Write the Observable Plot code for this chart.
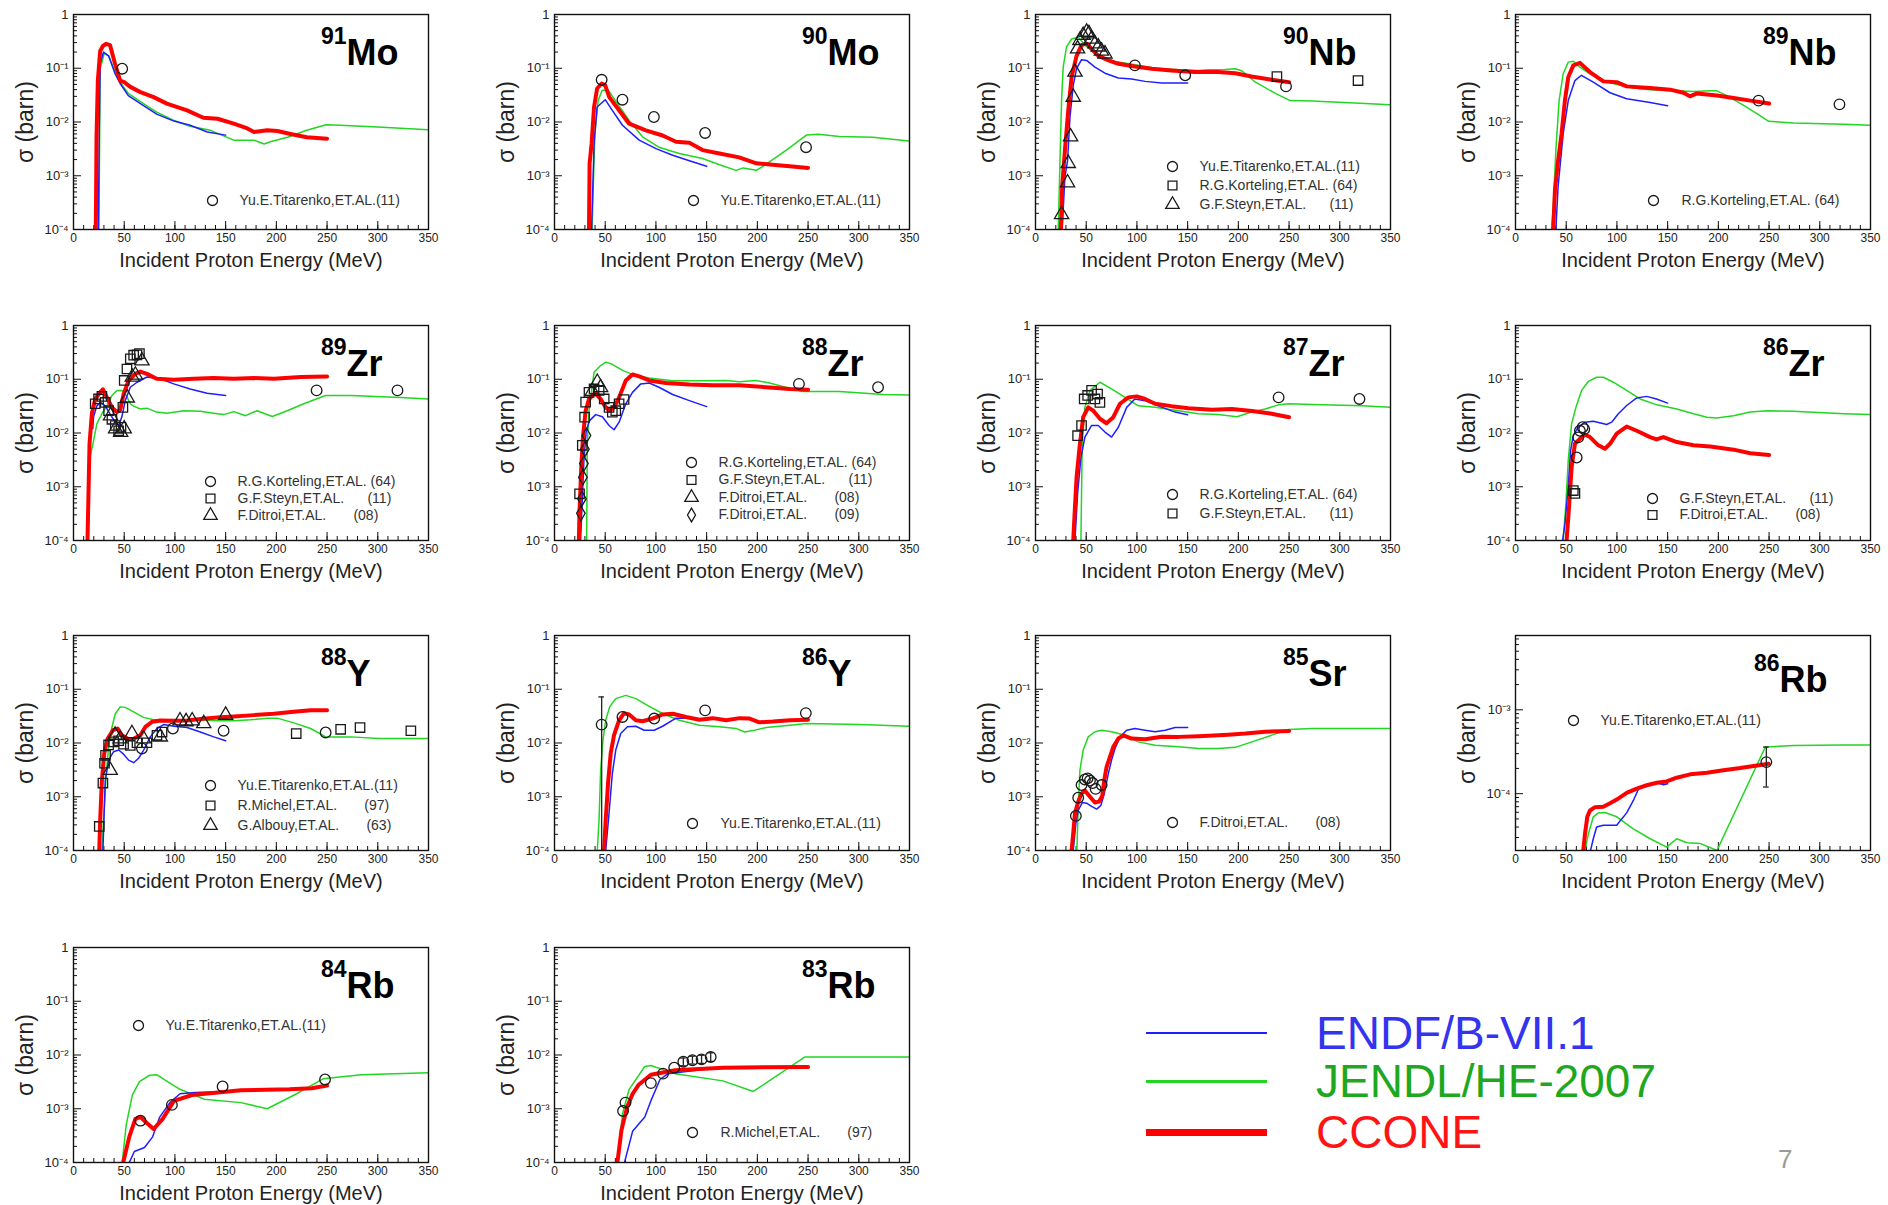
<!DOCTYPE html>
<html><head><meta charset="utf-8">
<script src="https://cdn.jsdelivr.net/npm/d3@7"></script>
<script src="https://cdn.jsdelivr.net/npm/@observablehq/plot@0.6"></script>
<style>
html,body{margin:0;padding:0;background:#fff;}
#page{position:relative;width:1888px;height:1205px;overflow:hidden;background:#fff;font-family:"Liberation Sans",Arial,Helvetica,sans-serif;}
.panel{position:absolute;}
.panel svg text{white-space:pre;}
.title{position:absolute;display:flex;align-items:flex-start;line-height:1;font-weight:bold;color:#000;white-space:nowrap;}
.title .m{font-size:23px;}
.title .e{font-size:36px;margin-top:9.5px;}
.lg-line{position:absolute;left:1146px;width:121px;}
.lg-text{position:absolute;left:1316px;font-size:46px;line-height:1;transform:translateY(-50%);white-space:nowrap;}
#pageno{position:absolute;left:1778px;top:1146px;font-size:26px;color:#9a9a9a;line-height:1;}
</style></head><body><div id="page"></div><script>
// ---------- tick values & labels ----------
const xMajor = [0, 50, 100, 150, 200, 250, 300, 350];
const xMinor = d3.range(0, 351, 10);
const X_LABEL = "Incident Proton Energy (MeV)";
const Y_LABEL = "σ (barn)";
const SYMS = ["circle", "square", "triangle", "diamond"];
const LIB_NAMES = ["ENDF/B-VII.1", "JENDL/HE-2007", "CCONE"];
const LIB_COLORS = ["#1e1eff", "#22d622", "#ff0000"];
const LIB_TEXT_COLORS = ["#3434ef", "#1fa81f", "#ff1414"];

// ---------- reference labels ----------
const REF_T = "Yu.E.Titarenko,ET.AL.(11)";
const REF_K = "R.G.Korteling,ET.AL. (64)";
const REF_S = "G.F.Steyn,ET.AL.      (11)";
const REF_D08 = "F.Ditroi,ET.AL.       (08)";
const REF_D09 = "F.Ditroi,ET.AL.       (09)";
const REF_M = "R.Michel,ET.AL.       (97)";
const REF_A = "G.Albouy,ET.AL.       (63)";

// ---------- data: [E (MeV), sigma (barn)] ; exp: [E, sigma, set] ----------
const Mo91_CCONE = [[22,1e-4],[22.7,0.0052],[24,0.059],[26.3,0.21],[29,0.26],[32.3,0.285],[36,0.27],[41,0.12],[46,0.059],[50,0.055],[56,0.045],[66,0.036],[79,0.029],[92,0.022],[112,0.0165],[128,0.012],[142,0.0115],[158,0.0093],[170,0.0078],[178,0.0065],[191,0.007],[201,0.0068],[214,0.006],[230,0.0052],[250,0.0049]];
const Mo91_ENDF = [[24.5,1e-4],[25.5,0.01],[26.3,0.12],[29.6,0.2],[34.6,0.17],[41,0.079],[46,0.052],[54,0.031],[66,0.022],[82,0.014],[99,0.0104],[115,0.0087],[132,0.0065],[150,0.0057]];
const Mo91_JENDL = [[25,1e-4],[25.6,0.002],[26.3,0.1],[27,0.11],[30.3,0.19],[34.6,0.17],[41,0.085],[46,0.055],[54,0.034],[66,0.024],[82,0.0153],[99,0.0107],[115,0.0083],[135,0.007],[158,0.0046],[178,0.0046],[188,0.0039],[194,0.0043],[211,0.0052],[230,0.007],[249,0.0089],[263,0.0087],[300,0.0081],[350,0.0072]];
const Mo91_exp = [[48,0.098,0]];

const Mo90_CCONE = [[34,1e-4],[34.6,0.0017],[36.6,0.004],[39,0.019],[42,0.042],[46.5,0.052],[50,0.048],[54,0.029],[63.7,0.0165],[73.6,0.0093],[90,0.007],[106.6,0.0056],[119.8,0.0043],[133,0.0041],[146,0.003],[162.7,0.0026],[182,0.0022],[199,0.0017],[215,0.0016],[232,0.0015],[250,0.0014]];
const Mo90_ENDF = [[36.6,1e-4],[39,0.004],[42,0.019],[50,0.026],[57,0.0165],[67,0.0087],[83.5,0.0046],[100,0.0032],[116.5,0.0024],[133,0.0019],[150,0.0015]];
const Mo90_JENDL = [[37,1e-4],[37.8,3.5e-4],[39.8,0.006],[43,0.025],[47,0.039],[53,0.039],[60,0.025],[73.6,0.0107],[86.8,0.0053],[103,0.0034],[123,0.0026],[146,0.0021],[162.7,0.0016],[179,0.00126],[186,0.0014],[199,0.00126],[205.5,0.0015],[228.6,0.003],[248.4,0.0057],[260,0.0059],[281,0.0054],[314,0.0052],[350,0.0044]];
const Mo90_exp = [[46.5,0.061,0],[67,0.026,0],[98,0.0124,0],[148.5,0.00625,0],[248,0.0034,0]];

const Nb90_CCONE = [[25,1e-4],[26.3,6.3e-4],[29,0.003],[32.3,0.0165],[35.6,0.069],[40.5,0.17],[45.4,0.27],[50.4,0.29],[55.3,0.23],[62,0.17],[72,0.14],[81.7,0.121],[98,0.108],[114.6,0.098],[134,0.091],[157,0.085],[180,0.085],[197,0.081],[213,0.07],[233,0.061],[250,0.055]];
const Nb90_ENDF = [[26.3,1e-4],[29,9.5e-4],[31.6,0.0019],[34,0.0124],[37.2,0.048],[40.5,0.098],[45.4,0.144],[50.4,0.14],[58.6,0.105],[68.5,0.081],[81.7,0.066],[94.8,0.063],[108,0.057],[124.5,0.053],[150,0.053]];
const Nb90_JENDL = [[22.4,1e-4],[24,0.00145],[25.7,0.025],[27.3,0.105],[30.6,0.25],[35.6,0.35],[42,0.38],[48.8,0.27],[55.3,0.215],[65.2,0.16],[78.4,0.134],[98,0.116],[118,0.1],[141,0.094],[160.7,0.091],[170.6,0.094],[187,0.095],[197,0.098],[203.7,0.089],[216.8,0.055],[236.6,0.034],[251,0.025],[272.6,0.0245],[325,0.022],[350,0.021]];
const Nb90_exp = [[98,0.113,0],[147.6,0.074,0],[247,0.046,0],[238,0.07,1],[318,0.059,1],[25.7,1.9e-4,2],[31.6,7.4e-4,2],[32.3,0.0017,2],[34.6,0.0053,2],[37.2,0.029,2],[38.9,0.085,2],[41.5,0.23,2],[43.8,0.33,2],[47,0.41,2],[50.4,0.47,2],[52.7,0.44,2],[55.3,0.35,2],[58.6,0.285,2],[61.9,0.25,2],[65,0.21,2],[68.5,0.185,2]];

const Nb89_CCONE = [[37.2,1e-4],[38.9,5.4e-4],[42,0.0019],[45.4,0.006],[48.7,0.025],[52,0.068],[57,0.113],[63.5,0.126],[73.4,0.085],[86.6,0.057],[99.8,0.055],[109.6,0.046],[132.7,0.043],[152.5,0.04],[165.6,0.035],[172,0.03],[179,0.034],[198.6,0.031],[215,0.028],[231.5,0.025],[250,0.022]];
const Nb89_ENDF = [[39.8,1e-4],[42,6.3e-4],[47,0.006],[52,0.025],[58.6,0.059],[65,0.074],[76.7,0.055],[93.2,0.035],[109.6,0.027],[132.7,0.023],[150,0.02]];
const Nb89_JENDL = [[35.5,1e-4],[37.2,2.6e-4],[39.8,0.003],[43,0.025],[47,0.079],[52,0.13],[57,0.135],[63.5,0.105],[73.4,0.079],[86.6,0.06],[99.8,0.05],[116,0.043],[132.7,0.04],[159,0.038],[175.6,0.037],[192,0.038],[198.5,0.038],[208.4,0.031],[225,0.0204],[238,0.0143],[249.6,0.0103],[274,0.0096],[323.7,0.0091],[350,0.0087]];
const Nb89_exp = [[239.7,0.025,0],[319.4,0.0213,0]];

const Zr89_CCONE = [[13.8,1e-4],[14.8,7.9e-4],[15.8,0.0063],[18.1,0.0228],[21.4,0.043],[26.3,0.057],[29,0.065],[32.9,0.046],[37.9,0.03],[42.8,0.0245],[46,0.027],[49.4,0.053],[54.3,0.095],[61,0.126],[65.9,0.139],[72.4,0.126],[82,0.102],[98.8,0.098],[118.5,0.102],[138,0.106],[158,0.102],[178,0.105],[197.6,0.102],[224,0.11],[250,0.113]];
const Zr89_ENDF = [[19,0.012],[19.8,0.02],[23,0.032],[26.3,0.037],[31.3,0.032],[36,0.0227],[41,0.016],[44.5,0.0138],[47.7,0.02],[51,0.04],[56,0.071],[62.6,0.088],[72.4,0.11],[85.6,0.102],[98.8,0.082],[115,0.066],[131.7,0.055],[150,0.05]];
const Zr89_JENDL = [[17,0.0041],[19.8,0.0072],[23,0.0148],[28,0.0228],[32.9,0.032],[37.9,0.05],[42.8,0.062],[47.7,0.062],[52,0.05],[56,0.035],[59.3,0.0317],[65.9,0.028],[72.4,0.029],[82,0.0245],[92,0.0234],[108.7,0.026],[125,0.0255],[138,0.0234],[148,0.022],[158,0.025],[169.6,0.021],[181,0.026],[196,0.0203],[210.7,0.026],[227,0.035],[248.6,0.05],[273,0.05],[322.7,0.046],[350,0.043]];
const Zr89_exp = [[239.7,0.062,0],[319.4,0.062,0],[21.4,0.035,1],[24.7,0.043,1],[28,0.048,1],[31.3,0.037,1],[34.6,0.026,1],[37.9,0.018,1],[41.2,0.0138,1],[44.5,0.011,1],[46.8,0.0128,1],[48.7,0.03,1],[50,0.095,1],[52.7,0.155,1],[56,0.24,1],[59.3,0.28,1],[62.6,0.285,1],[65,0.3,1],[36.5,0.021,2],[41.5,0.012,2],[46.5,0.0103,2],[50,0.012,2],[53,0.045,2],[58,0.11,2],[61,0.12,2],[67.5,0.22,2]];

const Zr88_CCONE = [[24,1e-4],[24.7,3.6e-4],[26.4,0.0023],[28,0.0083],[30.7,0.026],[34,0.043],[39.9,0.055],[45.5,0.043],[50.5,0.03],[54.4,0.026],[58.7,0.03],[63.7,0.046],[70.3,0.095],[76.9,0.123],[83.5,0.113],[93.4,0.095],[109.9,0.085],[133,0.08],[156,0.077],[182.4,0.077],[208.8,0.071],[232,0.066],[250,0.064]];
const Zr88_ENDF = [[25.7,1e-4],[29,0.0031],[31.3,0.011],[34.6,0.017],[40.6,0.022],[47.2,0.02],[53.8,0.0138],[58.7,0.0115],[63.7,0.0159],[70.3,0.035],[76.9,0.057],[85,0.082],[93.4,0.085],[103,0.071],[116.5,0.052],[133,0.04],[150,0.031]];
const Zr88_JENDL = [[31.7,1e-4],[32.3,0.006],[34,0.026],[39,0.135],[45.5,0.18],[50.5,0.208],[57,0.19],[67,0.146],[80,0.117],[93.4,0.105],[116.5,0.094],[143,0.094],[169,0.095],[182,0.09],[199,0.095],[212,0.085],[225,0.073],[245,0.059],[281,0.059],[324,0.052],[350,0.051]];
const Zr88_exp = [[241,0.082,0],[319,0.071,0],[24.7,7.4e-4,1],[27.4,0.0059,1],[29.7,0.0197,1],[30.7,0.0375,1],[34,0.057,1],[39,0.066,1],[44,0.062,1],[49,0.043,1],[53.8,0.03,1],[57,0.0245,1],[60.4,0.026,1],[63.7,0.035,1],[68.6,0.042,1],[42.2,0.088,2],[45.5,0.07,2],[37.3,0.06,2],[26,3.2e-4,3],[27,6e-4,3],[28,0.0015,3],[29,0.0027,3],[30,0.005,3],[31.5,0.009,3]];

const Zr87_CCONE = [[37.2,1e-4],[38.9,4.2e-4],[40.5,0.0015],[43.8,0.0063],[47,0.0197],[52,0.03],[57,0.026],[63.5,0.0184],[70,0.0152],[76.7,0.0197],[83.3,0.035],[91.5,0.046],[99.8,0.048],[108,0.043],[117.9,0.035],[134,0.0316],[150.8,0.029],[173.9,0.027],[193.6,0.028],[213.4,0.0256],[231.5,0.023],[250,0.0197]];
const Zr87_ENDF = [[38.9,1e-4],[41.5,7.4e-4],[44.8,0.0035],[48.7,0.0084],[55.3,0.0138],[61.9,0.0138],[68.5,0.0104],[75,0.0084],[81.7,0.0128],[89.9,0.03],[98,0.043],[108,0.04],[121,0.032],[137.6,0.0245],[150,0.0218]];
const Zr87_JENDL = [[44.8,1e-4],[46,0.006],[48.7,0.03],[53.7,0.062],[63.5,0.088],[75,0.066],[88.2,0.046],[101.4,0.032],[118,0.03],[141,0.026],[160.7,0.0228],[180,0.022],[198.6,0.02],[213,0.0245],[226.5,0.028],[239.7,0.0334],[249.6,0.035],[272.6,0.034],[322,0.032],[350,0.03]];
const Zr87_exp = [[239.7,0.046,0],[319.4,0.043,0],[41.5,0.0089,1],[45.4,0.0138,1],[48,0.043,1],[51.4,0.05,1],[55.3,0.062,1],[58.6,0.043,1],[61.2,0.053,1],[63.5,0.037,1]];

const Zr86_CCONE = [[50.4,1e-4],[53,4.8e-4],[55.3,0.0023],[58.6,0.0063],[63.5,0.0078],[68.5,0.0094],[73.4,0.0084],[81.7,0.0059],[88.2,0.0051],[93.2,0.0063],[99.8,0.0097],[109.6,0.0132],[119.5,0.011],[132.7,0.0084],[139,0.0076],[145.9,0.0084],[159,0.0068],[175.5,0.0059],[192,0.0056],[215,0.0049],[231.5,0.0042],[250,0.0039]];
const Zr86_ENDF = [[46.4,1e-4],[48.7,2e-4],[52,0.001],[54.3,0.0047],[57,0.009],[61.9,0.0128],[68.5,0.0159],[76.7,0.0166],[85,0.0152],[89.9,0.0144],[94.8,0.0159],[101.4,0.0228],[109.6,0.0325],[119.5,0.045],[129.4,0.048],[139,0.043],[150,0.036]];
const Zr86_JENDL = [[47,1e-4],[49.7,4.8e-4],[52,0.0031],[55.3,0.0148],[59.6,0.03],[65.2,0.062],[71.8,0.091],[80,0.109],[86.6,0.109],[96.5,0.088],[109.6,0.062],[122.8,0.043],[139.3,0.0334],[159,0.028],[175.5,0.0228],[188.7,0.0197],[198.5,0.019],[215,0.021],[231.5,0.0245],[248,0.026],[274,0.0255],[323.7,0.0228],[350,0.022]];
const Zr86_exp = [[60.3,0.0035,0],[61.9,0.0083,0],[63.5,0.011,0],[66.2,0.0128,0],[67.8,0.0118,0],[57,8.5e-4,1],[58.6,7.5e-4,1]];

const Y88_CCONE = [[25.4,1e-4],[26.3,3.7e-4],[28,0.002],[30.3,0.0064],[33.6,0.012],[38.9,0.0173],[43.5,0.0186],[47.7,0.0139],[54.3,0.0118],[59.3,0.012],[65.9,0.0139],[70.8,0.0199],[77.4,0.0248],[85.6,0.0263],[98.8,0.026],[112,0.0263],[125,0.028],[141.6,0.0297],[158,0.031],[177.8,0.033],[197.6,0.035],[217,0.038],[233.8,0.0405],[250,0.0405]];
const Y88_ENDF = [[29,1e-4],[31.3,0.002],[34.6,0.0048],[39.5,0.0069],[44.5,0.0074],[49.4,0.0062],[54.3,0.0048],[59.3,0.0043],[64.2,0.0052],[69.2,0.0074],[75.7,0.013],[82.3,0.0186],[88.9,0.022],[98.8,0.0205],[112,0.0194],[125,0.016],[138.3,0.013],[150,0.011]];
const Y88_JENDL = [[28,1e-4],[29.6,3.7e-4],[32.3,0.0027],[34.6,0.0085],[37.2,0.0173],[41.2,0.035],[46,0.047],[51,0.046],[59.3,0.038],[69,0.03],[79,0.027],[92,0.025],[108.7,0.026],[125,0.027],[141.6,0.026],[158,0.026],[174.5,0.027],[191,0.029],[200.8,0.029],[217.3,0.0237],[233.8,0.0186],[248.6,0.013],[273.3,0.013],[301.3,0.0121],[350,0.0121]];
const Y88_exp = [[98,0.0186,0],[148,0.0169,0],[248.6,0.0157,0],[67.5,0.0079,0],[25.4,2.8e-4,1],[29,0.0018,1],[30.6,0.0042,1],[31.6,0.0059,1],[34.6,0.0092,1],[39.5,0.0105,1],[44.5,0.011,1],[49.4,0.0095,1],[56,0.009,1],[62.6,0.0101,1],[72.4,0.0101,1],[82.3,0.0139,1],[87.3,0.016,1],[219.6,0.015,1],[263.4,0.018,1],[282.5,0.0194,1],[332.6,0.0169,1],[36.2,0.0031,2],[41,0.014,2],[46,0.012,2],[57.6,0.015,2],[69,0.012,2],[85.6,0.013,2],[105,0.026,2],[111,0.025,2],[117,0.026,2],[128.4,0.023,2],[150,0.033,2]];

const Y86_CCONE = [[48.8,1e-4],[50.5,3.7e-4],[52.8,0.0018],[55.4,0.0064],[58.7,0.014],[63.7,0.0265],[68.6,0.036],[73.6,0.034],[80.2,0.0265],[86.8,0.0254],[96.7,0.0285],[106.6,0.034],[116.5,0.035],[129.7,0.0305],[142.9,0.027],[156,0.029],[169.3,0.0265],[182.4,0.029],[192.3,0.0285],[202,0.0243],[215.4,0.025],[232,0.0265],[250,0.027]];
const Y86_ENDF = [[50.5,1e-4],[53.8,5e-4],[57,0.0027],[60.4,0.0074],[65.3,0.015],[71.9,0.02],[80.2,0.0205],[88.4,0.0173],[98.3,0.0173],[106.6,0.0205],[119.8,0.029],[129.7,0.029],[143,0.028],[150,0.0265]];
const Y86_JENDL = [[42.2,1e-4],[43.9,3.7e-4],[45.5,0.0031],[47.8,0.0113],[50.5,0.0265],[54.4,0.047],[60.4,0.067],[70.3,0.077],[80.2,0.067],[93.4,0.048],[106.6,0.0354],[123,0.0265],[143,0.0214],[162.7,0.02],[179,0.0187],[187.4,0.016],[195.6,0.017],[208.8,0.0194],[232,0.0214],[248.4,0.023],[301,0.0222],[350,0.0205]];
const Y86_exp = [[46.5,0.022,0],[67,0.0305,0],[98.3,0.0285,0],[148.5,0.0405,0],[247.8,0.036,0]];
const Y86_err = [[46.5,1e-4,0.072]];

const Sr85_CCONE = [[35.6,1e-4],[37.2,2.1e-4],[38.9,4.9e-4],[42.1,8.1e-4],[45.4,0.00115],[48.7,0.0013],[53.7,0.001],[58.6,7.8e-4],[62.6,8.1e-4],[65.9,0.00105],[67.8,0.00205],[70.1,0.0036],[73.4,0.0055],[76.7,0.0085],[81.7,0.0121],[86.6,0.0139],[94.8,0.0121],[108,0.0117],[124.5,0.0131],[141,0.013],[160.7,0.0134],[190,0.0143],[206.8,0.015],[226.5,0.0162],[250,0.0168]];
const Sr85_ENDF = [[37.2,1e-4],[39.8,3.2e-4],[42.1,5.6e-4],[46.1,7.8e-4],[50.4,7.6e-4],[55.3,6.6e-4],[60.3,5.9e-4],[64.5,6.9e-4],[67.8,0.00115],[71.8,0.0027],[75,0.0048],[78.4,0.0079],[83.3,0.013],[89.9,0.0173],[98,0.0186],[108,0.0173],[117.9,0.0162],[127.8,0.0173],[137.6,0.0194],[150,0.0194]];
const Sr85_JENDL = [[40.8,1e-4],[42.1,6.6e-4],[43.8,0.0031],[47,0.0074],[52,0.013],[58.6,0.0162],[65.2,0.0173],[75,0.0162],[88.2,0.0139],[101.4,0.0105],[117.9,0.0091],[141,0.0085],[160.7,0.0079],[180,0.0079],[197,0.0083],[213.4,0.0105],[233,0.014],[249.6,0.0178],[272.6,0.0186],[350,0.0186]];
const Sr85_exp = [[39.8,4.4e-4,0],[42.1,9.6e-4,0],[45.4,0.00165,0],[48.7,0.0021,0],[51.4,0.0022,0],[53.7,0.002,0],[56.3,0.0018,0],[59.3,0.0014,0],[65.2,0.00165,0]];

const Rb86_CCONE = [[66.8,2.1e-5],[68.5,3.3e-5],[70.8,5.3e-5],[73.4,6.3e-5],[78.4,6.9e-5],[86.6,7e-5],[93.2,7.7e-5],[99.8,8.5e-5],[109.6,1.02e-4],[119.5,1.15e-4],[129.4,1.26e-4],[139.3,1.35e-4],[149,1.4e-4],[158.9,1.55e-4],[172.2,1.7e-4],[188.7,1.78e-4],[205,1.9e-4],[221.6,2.02e-4],[234.8,2.14e-4],[249.6,2.27e-4]];
const Rb86_ENDF = [[74,2.1e-5],[76.7,2.9e-5],[80,4e-5],[86.6,4.2e-5],[99.8,4.2e-5],[104.7,5e-5],[109.6,5.9e-5],[116.2,8.3e-5],[122.2,1.2e-4],[129.4,1.28e-4],[139.3,1.35e-4],[145.9,1.28e-4],[150,1.31e-4]];
const Rb86_JENDL = [[68.5,2.1e-5],[71.8,3.3e-5],[76.7,5.3e-5],[81.7,5.9e-5],[88.2,5.95e-5],[99.8,5.3e-5],[116.2,3.8e-5],[132.7,2.9e-5],[149.1,2.3e-5],[159,2.9e-5],[169,2.6e-5],[182,2.55e-5],[198.6,2.1e-5],[246.3,3.6e-4],[274.3,3.75e-4],[323.7,3.8e-4],[350,3.8e-4]];
const Rb86_exp = [[247.3,2.38e-4,0]];
const Rb86_err = [[247.3,1.2e-4,3.6e-4]];

const Rb84_CCONE = [[49,1e-4],[55,3e-4],[61,6.5e-4],[66,7e-4],[72,5.5e-4],[79,4.2e-4],[88,6.5e-4],[99,1.4e-3],[117,1.8e-3],[165,2.2e-3],[213,2.3e-3],[235,2.4e-3],[250,2.7e-3]];
const Rb84_ENDF = [[55,1e-4],[60,1.6e-4],[70,1.9e-4],[78,3e-4],[85,7e-4],[95,1.3e-3],[105,1.9e-3],[120,2e-3],[150,2.1e-3]];
const Rb84_JENDL = [[48,1e-4],[52,5e-4],[58,1.8e-3],[65,3.2e-3],[75,4.2e-3],[82,4.3e-3],[95,3e-3],[105,2.3e-3],[129,1.5e-3],[165,1.3e-3],[191,1e-3],[220,1.9e-3],[246,3.6e-3],[284,4.3e-3],[350,4.7e-3]];
const Rb84_exp = [[66,6e-4,0],[97,1.18e-3,0],[147,2.6e-3,0],[248,3.5e-3,0]];

const Rb83_CCONE = [[62,1e-4],[66,4e-4],[71.5,1.05e-3],[77,1.9e-3],[83,2.8e-3],[95,4.3e-3],[119,5.2e-3],[166,5.8e-3],[250,6e-3]];
const Rb83_ENDF = [[69,1e-4],[77,3.8e-4],[89,7e-4],[95,1.4e-3],[104,3.5e-3],[112,4.5e-3],[150,5.5e-3]];
const Rb83_JENDL = [[62,1e-4],[67,8e-4],[73.6,2.3e-3],[89,6.1e-3],[95,6.4e-3],[119,4.5e-3],[166,3.3e-3],[196,2.1e-3],[247,9.2e-3],[350,9.2e-3]];
const Rb83_exp = [[67.6,9.1e-4,0],[70,1.3e-3,0],[95,3e-3,0],[107,4.5e-3,0],[118,5.8e-3,0],[127,7.5e-3,0],[136,8e-3,0],[145,8.3e-3,0],[154,9.2e-3,0]];
const Rb83_err = [[127,6.3e-3,8.8e-3],[136,6.8e-3,9.5e-3],[145,7e-3,9.9e-3],[154,7.6e-3,1.1e-2]];

// ---------- layout ----------
const colX = [73, 554, 1035, 1515];
const rowY = [14, 325, 635, 947];
const FW = 355, FH = 215;
const ML = 70, MR = 8, MT = 8, MB = 44;

const panels = [
  {mass:"91", el:"Mo", c:0, r:0, ccone:Mo91_CCONE, endf:Mo91_ENDF, jendl:Mo91_JENDL, exp:Mo91_exp, refs:[REF_T], leg:{dx:139, tx:166, dy:186, gap:18}},
  {mass:"90", el:"Mo", c:1, r:0, ccone:Mo90_CCONE, endf:Mo90_ENDF, jendl:Mo90_JENDL, exp:Mo90_exp, refs:[REF_T], leg:{dx:139, tx:166, dy:186, gap:18}},
  {mass:"90", el:"Nb", c:2, r:0, ccone:Nb90_CCONE, endf:Nb90_ENDF, jendl:Nb90_JENDL, exp:Nb90_exp, refs:[REF_T, REF_K, REF_S], leg:{dx:137, tx:164, dy:152, gap:19}},
  {mass:"89", el:"Nb", c:3, r:0, ccone:Nb89_CCONE, endf:Nb89_ENDF, jendl:Nb89_JENDL, exp:Nb89_exp, refs:[REF_K], leg:{dx:138, tx:166, dy:186, gap:18}},
  {mass:"89", el:"Zr", c:0, r:1, ccone:Zr89_CCONE, endf:Zr89_ENDF, jendl:Zr89_JENDL, exp:Zr89_exp, refs:[REF_K, REF_S, REF_D08], leg:{dx:137, tx:164, dy:156, gap:17}},
  {mass:"88", el:"Zr", c:1, r:1, ccone:Zr88_CCONE, endf:Zr88_ENDF, jendl:Zr88_JENDL, exp:Zr88_exp, refs:[REF_K, REF_S, REF_D08, REF_D09], leg:{dx:137, tx:164, dy:137, gap:17.5}},
  {mass:"87", el:"Zr", c:2, r:1, ccone:Zr87_CCONE, endf:Zr87_ENDF, jendl:Zr87_JENDL, exp:Zr87_exp, refs:[REF_K, REF_S], leg:{dx:137, tx:164, dy:169, gap:19}},
  {mass:"86", el:"Zr", c:3, r:1, ccone:Zr86_CCONE, endf:Zr86_ENDF, jendl:Zr86_JENDL, exp:Zr86_exp, refs:[REF_S, REF_D08], leg:{dx:137, tx:164, dy:173, gap:16.5}},
  {mass:"88", el:"Y", c:0, r:2, ccone:Y88_CCONE, endf:Y88_ENDF, jendl:Y88_JENDL, exp:Y88_exp, refs:[REF_T, REF_M, REF_A], leg:{dx:137, tx:164, dy:150, gap:20}},
  {mass:"86", el:"Y", c:1, r:2, ccone:Y86_CCONE, endf:Y86_ENDF, jendl:Y86_JENDL, exp:Y86_exp, err:Y86_err, refs:[REF_T], leg:{dx:138, tx:166, dy:188, gap:18}},
  {mass:"85", el:"Sr", c:2, r:2, ccone:Sr85_CCONE, endf:Sr85_ENDF, jendl:Sr85_JENDL, exp:Sr85_exp, refs:[REF_D08], leg:{dx:137, tx:164, dy:187, gap:18}},
  {mass:"86", el:"Rb", c:3, r:2, ccone:Rb86_CCONE, endf:Rb86_ENDF, jendl:Rb86_JENDL, exp:Rb86_exp, err:Rb86_err, refs:[REF_T], leg:{dx:58, tx:85, dy:85, gap:18}, yDomain:[2.1e-5, 7.7e-3], tdx:239, tdy:6},
  {mass:"84", el:"Rb", c:0, r:3, ccone:Rb84_CCONE, endf:Rb84_ENDF, jendl:Rb84_JENDL, exp:Rb84_exp, refs:[REF_T], leg:{dx:65, tx:92, dy:78, gap:18}},
  {mass:"83", el:"Rb", c:1, r:3, ccone:Rb83_CCONE, endf:Rb83_ENDF, jendl:Rb83_JENDL, exp:Rb83_exp, err:Rb83_err, refs:[REF_M], leg:{dx:138, tx:166, dy:185, gap:18}}
];

const SUP = {"-":"⁻","0":"⁰","1":"¹","2":"²","3":"³","4":"⁴","5":"⁵","6":"⁶","7":"⁷","8":"⁸","9":"⁹"};
function fmtPow(d) {
  const e = Math.round(Math.log10(d));
  if (e === 0) return "1";
  return "10" + String(e).split("").map(ch => SUP[ch]).join("");
}

const page = document.getElementById("page");
const FONT = '"Liberation Sans", Arial, Helvetica, sans-serif';

for (const p of panels) {
  const dom = p.yDomain || [1e-4, 1];
  const decades = d3.range(-6, 1).map(e => +("1e" + e)).filter(v => v >= dom[0] * 0.999 && v <= dom[1] * 1.001);
  const minors = [];
  d3.range(-6, 0).forEach(e => { for (let k = 2; k <= 9; k++) { const v = +(k + "e" + e); if (v > dom[0] && v < dom[1]) minors.push(v); } });

  const marks = [
    Plot.tickX(xMinor, {x: d => d, insetTop: FH - 4, stroke: "#111", strokeWidth: 1}),
    Plot.tickX(xMajor, {x: d => d, insetTop: FH - 8, stroke: "#111", strokeWidth: 1}),
    Plot.tickY(minors, {y: d => d, insetRight: FW - 4, stroke: "#111", strokeWidth: 1}),
    Plot.tickY(decades, {y: d => d, insetRight: FW - 8, stroke: "#111", strokeWidth: 1}),
    Plot.axisX({ticks: xMajor, tickSize: 0, tickPadding: 4, fontSize: 12, label: null}),
    Plot.axisY({ticks: decades, tickSize: 0, tickPadding: 5, tickFormat: fmtPow, fontSize: 13, label: null}),
    Plot.text([X_LABEL], {text: d => d, frameAnchor: "bottom", dy: 31, lineAnchor: "middle", fontSize: 20, fill: "#222"}),
    Plot.text([Y_LABEL], {text: d => d, frameAnchor: "left", dx: -48, rotate: -90, textAnchor: "middle", lineAnchor: "middle", fontSize: 23, fill: "#222"}),
    Plot.line(p.jendl, {x: d => d[0], y: d => d[1], stroke: LIB_COLORS[1], strokeWidth: 1.5, clip: true}),
    Plot.line(p.endf, {x: d => d[0], y: d => d[1], stroke: LIB_COLORS[0], strokeWidth: 1.5, clip: true}),
    Plot.line(p.ccone, {x: d => d[0], y: d => d[1], stroke: LIB_COLORS[2], strokeWidth: 4, strokeLinejoin: "round", clip: true})
  ];
  if (p.err) {
    marks.push(Plot.ruleX(p.err, {x: d => d[0], y1: d => d[1], y2: d => d[2], stroke: "#222", strokeWidth: 1.3, clip: true}));
    marks.push(Plot.ruleY(p.err, {y: d => d[2], x1: d => d[0] - 2.8, x2: d => d[0] + 2.8, stroke: "#222", strokeWidth: 1.3, clip: true}));
    marks.push(Plot.ruleY(p.err, {y: d => d[1], x1: d => d[0] - 2.8, x2: d => d[0] + 2.8, stroke: "#222", strokeWidth: 1.3, clip: true}));
  }
  p.refs.forEach((name, i) => {
    const pts = p.exp.filter(d => d[2] === i);
    const sym = SYMS[i];
    const rr = sym === "diamond" ? 4.5 : 5.3;
    marks.push(Plot.dot(pts, {x: d => d[0], y: d => d[1], symbol: sym, r: rr, stroke: "#1a1a1a", fill: "none", strokeWidth: 1.3, clip: true}));
    marks.push(Plot.dot([name], {frameAnchor: "top-left", dx: p.leg.dx, dy: p.leg.dy + i * p.leg.gap, symbol: sym, r: rr - 0.3, stroke: "#1a1a1a", fill: "none", strokeWidth: 1.3}));
    marks.push(Plot.text([name], {text: d => d, frameAnchor: "top-left", dx: p.leg.tx, dy: p.leg.dy + i * p.leg.gap, textAnchor: "start", lineAnchor: "middle", fontSize: 14, fill: "#333"}));
  });
  marks.push(Plot.frame({stroke: "#111", strokeWidth: 1.4}));

  const svg = Plot.plot({
    width: ML + FW + MR, height: MT + FH + MB,
    marginLeft: ML, marginRight: MR, marginTop: MT, marginBottom: MB,
    x: {domain: [0, 350]},
    y: {type: "log", domain: dom},
    style: {fontFamily: FONT, color: "#222", background: "transparent", overflow: "visible"},
    marks
  });
  const div = document.createElement("div");
  div.className = "panel";
  div.style.left = (colX[p.c] - ML) + "px";
  div.style.top = (rowY[p.r] - MT) + "px";
  div.appendChild(svg);
  page.appendChild(div);

  const t = document.createElement("div");
  t.className = "title";
  t.style.left = (colX[p.c] + (p.tdx || 248)) + "px";
  t.style.top = (rowY[p.r] + 11 + (p.tdy || 0)) + "px";
  t.innerHTML = `<span class="m">${p.mass}</span><span class="e">${p.el}</span>`;
  page.appendChild(t);
}

// ---------- global legend ----------
const legY = [1033, 1081, 1132];
const legW = [2, 3, 7];
LIB_NAMES.forEach((name, i) => {
  const ln = document.createElement("div");
  ln.className = "lg-line";
  ln.style.top = (legY[i] - legW[i] / 2) + "px";
  ln.style.height = legW[i] + "px";
  ln.style.background = LIB_COLORS[i];
  page.appendChild(ln);
  const tx = document.createElement("div");
  tx.className = "lg-text";
  tx.style.top = legY[i] + "px";
  tx.style.color = LIB_TEXT_COLORS[i];
  tx.textContent = name;
  page.appendChild(tx);
});
const pn = document.createElement("div");
pn.id = "pageno";
pn.textContent = "7";
page.appendChild(pn);
</script></body></html>
